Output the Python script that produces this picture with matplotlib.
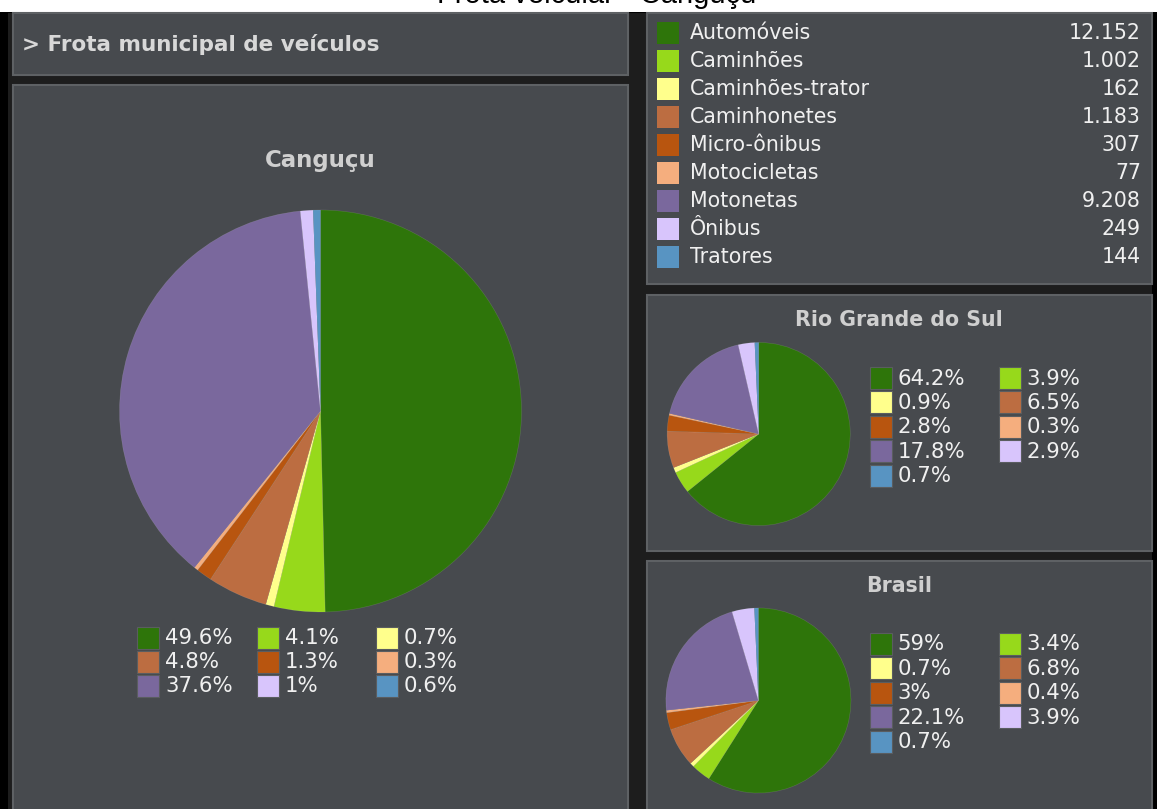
import matplotlib
matplotlib.use('Agg')
import matplotlib.pyplot as plt
from matplotlib.patches import Rectangle

W, H = 1157, 809

# ---------------- data ----------------
categories = ['Automóveis', 'Caminhões', 'Caminhões-trator', 'Caminhonetes',
              'Micro-ônibus', 'Motocicletas', 'Motonetas', 'Ônibus', 'Tratores']
cangucu_counts = [12152, 1002, 162, 1183, 307, 77, 9208, 249, 144]
rs_pct = [64.2, 3.9, 0.9, 6.5, 2.8, 0.3, 17.8, 2.9, 0.7]
br_pct = [59, 3.4, 0.7, 6.8, 3, 0.4, 22.1, 3.9, 0.7]
colors = ['#2e750a', '#97d91b', '#ffff8c', '#bc6d41', '#b8550f',
          '#f5ae7e', '#7a689d', '#d8c5fc', '#5894c2']

page_title = 'Frota veicular - Canguçu'
header_text = '> Frota municipal de veículos'
pie_titles = ['Canguçu', 'Rio Grande do Sul', 'Brasil']

PANEL = '#474a4e'
EDGE = '#5e6164'
TXT = '#f0f0f0'
TTL = '#cfcfcf'


def fmt_pct(p):
    s = f'{p:.1f}'
    if s.endswith('.0'):
        s = s[:-2]
    return s + '%'


def fmt_int(v):
    return f'{v:,}'.replace(',', '.')


total = sum(cangucu_counts)
cangucu_pct = [c / total * 100 for c in cangucu_counts]

fig = plt.figure(figsize=(W / 100, H / 100), dpi=100, facecolor='white')
bg = fig.add_axes([0, 0, 1, 1])
bg.set_xlim(0, W)
bg.set_ylim(H, 0)
bg.axis('off')

# page title (its top is cut off by the page edge, covered below by the frame)
bg.text(597, 3, page_title, ha='center', va='baseline', fontsize=21,
        family='Liberation Sans', color='black', zorder=0.5)

# frame / background
bg.add_patch(Rectangle((0, 12), W, H - 12, facecolor='#000000', edgecolor='none', zorder=1))
bg.add_patch(Rectangle((8, 13), 1144, H - 13, facecolor='#1d1d1d', edgecolor='none', zorder=1))


def panel(x0, y0, x1, y1):
    bg.add_patch(Rectangle((x0, y0), x1 - x0, y1 - y0, facecolor=PANEL,
                           edgecolor=EDGE, linewidth=1.5, zorder=1.2))


panel(13, 13, 628, 75)
panel(13, 85, 628, H + 5)
panel(647, 13, 1152, 284)
panel(647, 295, 1152, 551)
panel(647, 561, 1152, H + 5)

# header
bg.text(22, 44, header_text, ha='left', va='center', fontsize=15.5,
        fontweight='bold', color='#d8d8d8', zorder=3)

# ---------------- top-right legend with counts ----------------
for i, (cat, val, col) in enumerate(zip(categories, cangucu_counts, colors)):
    yc = 33 + 28 * i
    bg.add_patch(Rectangle((657, yc - 11), 22, 22, facecolor=col, edgecolor='none', zorder=2))
    bg.text(690, yc, cat, ha='left', va='center', fontsize=14.8, color=TXT, zorder=3)
    bg.text(1141, yc, fmt_int(val), ha='right', va='center', fontsize=14.8, color=TXT, zorder=3)


def pie_at(cx, cy, r, vals):
    ax = fig.add_axes([(cx - r) / W, 1 - (cy + r) / H, 2 * r / W, 2 * r / H])
    ax.pie(vals, colors=colors, startangle=90, counterclock=False, radius=1,
           wedgeprops=dict(linewidth=0.4, edgecolor=(1, 1, 1, 0.15)))
    ax.set_xlim(-1.005, 1.005)
    ax.set_ylim(-1.005, 1.005)
    ax.set_aspect('equal')
    ax.axis('off')
    return ax


def pct_legend(x0, y0, ncol, colstep, rowstep, pcts):
    for i, (p, col) in enumerate(zip(pcts, colors)):
        r, c = divmod(i, ncol)
        x = x0 + c * colstep
        yc = y0 + r * rowstep
        bg.add_patch(Rectangle((x, yc - 11), 22, 22, facecolor=col,
                               edgecolor='#5a5d60', linewidth=0.8, zorder=2))
        bg.text(x + 28, yc + 0.5, fmt_pct(p), ha='left', va='center',
                fontsize=15.3, color=TXT, zorder=3)


# ---------------- Canguçu ----------------
bg.text(320, 160, pie_titles[0], ha='center', va='center', fontsize=16.5,
        fontweight='bold', color=TTL, zorder=3)
pie_at(320.5, 411, 202, cangucu_counts)
pct_legend(137, 638, 3, 119.5, 24, cangucu_pct)

# ---------------- Rio Grande do Sul ----------------
bg.text(899, 320, pie_titles[1], ha='center', va='center', fontsize=14.8,
        fontweight='bold', color=TTL, zorder=3)
pie_at(758.7, 434, 92, rs_pct)
pct_legend(869.5, 378, 2, 129, 24.4, rs_pct)

# ---------------- Brasil ----------------
bg.text(899, 586, pie_titles[2], ha='center', va='center', fontsize=14.8,
        fontweight='bold', color=TTL, zorder=3)
pie_at(758.4, 700.5, 93, br_pct)
pct_legend(869.5, 644, 2, 129, 24.4, br_pct)

fig.savefig('out.png', dpi=100, facecolor='white')
